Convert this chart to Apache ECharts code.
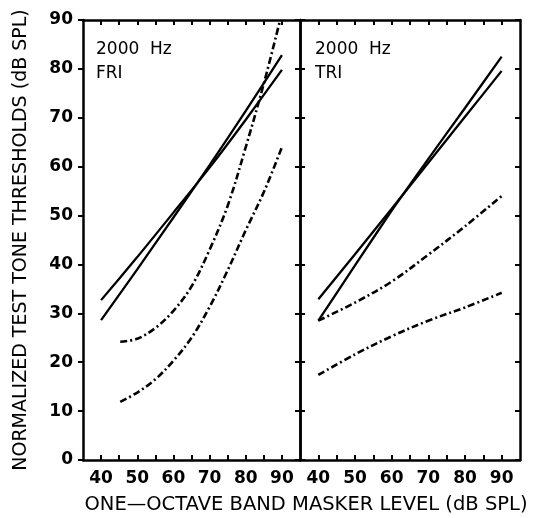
<!DOCTYPE html>
<html>
<head>
<meta charset="utf-8">
<script src="https://cdn.jsdelivr.net/npm/echarts@6/dist/echarts.min.js"></script>
<style>
  html, body { margin: 0; padding: 0; background: #fff; }
  #masking_chart { width: 533px; height: 518px; }
</style>
</head>
<body>
<div id="masking_chart"></div>
<script>
// masker levels for the solid lines
const levels = [40, 50, 60, 70, 80, 90]
const xTicks = [40, 45, 50, 55, 60, 65, 70, 75, 80, 85, 90]
const xLabels = [40, 50, 60, 70, 80, 90]

// FRI panel
const friSolidA = [32.7, 41.5, 50.6, 59.8, 69.6, 79.8]
const friSolidB = [28.6, 39.0, 49.6, 60.3, 71.4, 82.8]
const friDashAX = [45.3, 50, 55, 60, 65, 70, 75, 80, 85, 89.5]
const friDashAY = [24.2, 24.8, 27.0, 30.5, 35.5, 43.0, 52.0, 64.0, 77.0, 90.0]
const friDashBX = [45.3, 50, 55, 60, 65, 70, 75, 80, 85, 90]
const friDashBY = [11.9, 13.8, 16.5, 20.3, 25.0, 31.3, 38.8, 47.0, 54.8, 64.0]

// TRI panel
const triSolidA = [32.9, 42.1, 51.4, 60.8, 70.2, 79.6]
const triSolidB = [28.5, 39.8, 51.0, 61.6, 72.0, 82.5]
const triDashA = [28.5, 32.2, 36.5, 42.0, 47.8, 54.0]
const triDashB = [17.4, 21.6, 25.3, 28.5, 31.2, 34.2]

const pair = (xs, ys) => xs.map((x, i) => [x, ys[i]])

const chart = echarts.init(document.getElementById('masking_chart'))

const FONT = '"DejaVu Sans", Verdana, sans-serif'
const labelFont = {
  fontFamily: FONT,
  fontWeight: 'bold',
  fontSize: 17,
  color: '#000'
}
const axisLine = { show: true, onZero: false, lineStyle: { color: '#000', width: 2.5 } }

function xAxisFor (gridIndex, position) {
  return {
    type: 'value',
    gridIndex,
    position,
    min: 35,
    max: 95,
    axisLine,
    splitLine: { show: false },
    axisTick: {
      show: true,
      inside: true,
      length: 5,
      customValues: xTicks,
      lineStyle: { color: '#000', width: 2 }
    },
    axisLabel: position === 'bottom'
      ? Object.assign({ customValues: xLabels, margin: 10 }, labelFont)
      : { show: false }
  }
}

function yAxisFor (gridIndex, position, inside, showLabel) {
  return {
    type: 'value',
    gridIndex,
    position,
    min: 0,
    max: 90,
    interval: 10,
    axisLine,
    splitLine: { show: false },
    axisTick: { show: true, inside, length: 5, lineStyle: { color: '#000', width: 2 } },
    axisLabel: showLabel ? Object.assign({ margin: 10 }, labelFont) : { show: false }
  }
}

function line (xAxisIndex, yAxisIndex, data, dashed) {
  return {
    type: 'line',
    xAxisIndex,
    yAxisIndex,
    data,
    smooth: dashed ? 0.35 : 0.2,
    symbol: 'none',
    clip: true,
    lineStyle: {
      color: '#000',
      width: dashed ? 2.6 : 2.3,
      type: dashed ? [7, 3, 2, 3] : 'solid'
    }
  }
}

// "2000 Hz" + condition label in the panel corner
const panelText = (x, lines) => ({
  type: 'text',
  left: x,
  top: 38,
  style: {
    text: lines.join('\n'),
    font: '17px ' + FONT,
    lineHeight: 24,
    fill: '#000'
  }
})

const option = {
  backgroundColor: '#fff',
  animation: false,
  grid: [
    { left: 83, right: 233, top: 20, bottom: 58 },
    { left: 300, right: 13, top: 20, bottom: 58 }
  ],
  xAxis: [
    xAxisFor(0, 'bottom'),
    xAxisFor(0, 'top'),
    xAxisFor(1, 'bottom'),
    xAxisFor(1, 'top')
  ],
  yAxis: [
    Object.assign(yAxisFor(0, 'left', false, true), {
      name: 'NORMALIZED TEST TONE THRESHOLDS (dB SPL)',
      nameLocation: 'middle',
      nameGap: 52,
      nameTextStyle: {
        fontFamily: FONT,
        fontSize: 19,
        color: '#000'
      }
    }),
    yAxisFor(0, 'right', true, false),
    yAxisFor(1, 'left', true, false),
    yAxisFor(1, 'right', true, false)
  ],
  graphic: [
    panelText(96, ['2000  Hz', 'FRI']),
    panelText(315, ['2000  Hz', 'TRI']),
    {
      type: 'text',
      x: 306,
      y: 505,
      style: {
        text: 'ONE\u2014OCTAVE BAND MASKER LEVEL (dB SPL)',
        font: '19.5px ' + FONT,
        fill: '#000',
        align: 'center',
        verticalAlign: 'middle'
      }
    }
  ],
  series: [
    line(0, 0, pair(levels, friSolidA), false),
    line(0, 0, pair(levels, friSolidB), false),
    line(0, 0, pair(friDashAX, friDashAY), true),
    line(0, 0, pair(friDashBX, friDashBY), true),
    line(2, 2, pair(levels, triSolidA), false),
    line(2, 2, pair(levels, triSolidB), false),
    line(2, 2, pair(levels, triDashA), true),
    line(2, 2, pair(levels, triDashB), true)
  ]
}

chart.setOption(option)
</script>
</body>
</html>
